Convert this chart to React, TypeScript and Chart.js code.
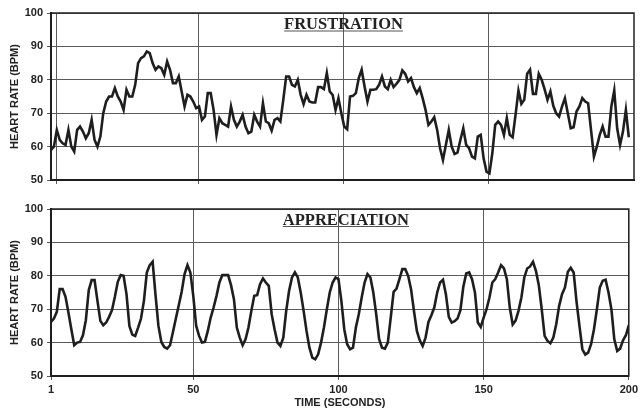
import React, { useEffect, useRef } from "react";
import { Chart, registerables } from "chart.js";

Chart.register(...registerables);

// ---------- data ----------
const TIME_TICKS = [1, 50, 100, 150, 200];
const TOP_TIME_TICKS = [1, 50, 100, 150];
const Y_MIN = 50;
const Y_MAX = 100;
const Y_STEP = 10;

const Y_TITLE = "HEART RATE (BPM)";
const X_TITLE = "TIME (SECONDS)";
const FRUSTRATION_LABEL = "FRUSTRATION";
const APPRECIATION_LABEL = "APPRECIATION";

const FRUSTRATION = [
  59, 60, 65, 62, 61, 60.5, 65, 60, 58.5, 65,
  66, 64.5, 62.5, 64, 68, 62, 60, 63, 70, 73.5,
  75, 75, 77.5, 75, 73.5, 71, 77, 75, 75, 78.5,
  85, 86.5, 87, 88.5, 88, 85, 83, 84, 83.5, 81.5,
  85.5, 83, 79, 79, 81, 76.5, 72, 75.5, 75, 73.5,
  71.5, 72, 68, 69, 76, 76, 71, 63.5, 68.5, 67,
  66.5, 66, 72, 68, 66, 67.5, 69.5, 66, 64, 64.5,
  69.5, 67.5, 66, 73, 67.5, 67, 64.8, 68, 68.5, 67.5,
  74, 81, 81, 78.5, 78, 80, 75.5, 72.7, 75.5, 73.5,
  73.2, 73.2, 77.8, 77.8, 77.2, 82, 76.5, 75.5, 71, 74.5,
  70, 66, 65.2, 75, 75.2, 76, 80.5, 83, 78, 73.5,
  77, 77, 77.2, 78.5, 81, 78, 77.2, 80, 77.8, 78.8,
  80, 82.8, 81.8, 79.5, 80.5, 77.8, 76, 77.5, 74.5, 71,
  66.5, 67.5, 68.8, 65, 59.5, 56, 60.5, 65, 60, 57.8,
  58.2, 62, 65.5, 60.5, 59.5, 57, 56.5, 63, 63.5, 56.5,
  52.5, 52, 58, 66.5, 67.5, 66.5, 63.5, 68.5, 63.5, 62.8,
  69.5, 76.8, 72.8, 74, 81.8, 83, 75.8, 75.8, 81.8, 80,
  77.2, 74, 76.5, 72.2, 70, 69, 72, 74.5, 70, 65.5,
  65.8, 70.5, 72, 74.5, 73.5, 73, 65, 57, 60, 63.5,
  66, 63, 63, 72, 76.8, 65.5, 60.5, 64.5, 71, 62.8,
];

const APPRECIATION = [
  66.2, 67.2, 69.2, 76, 76, 73.7, 69, 64, 59.2, 60,
  60.2, 62.2, 66.7, 75.7, 78.7, 78.7, 72.5, 66.5, 65.2, 66,
  67.7, 69.7, 73.7, 78.2, 80.2, 80, 74.5, 65, 62.4, 62,
  64.5, 67.2, 72.5, 81, 83.2, 84.2, 74.2, 65, 60.2, 58.7,
  58.2, 59.2, 63.2, 67.2, 71.2, 75.2, 80.5, 83.2, 81, 74,
  65, 62, 60, 60.2, 63.5, 67.5, 70.5, 74, 78, 80.2,
  80.2, 80.2, 77.2, 73, 64.5, 61.5, 59.2, 61, 64.5, 69.5,
  74, 74.2, 77.5, 79.2, 78, 77, 68.5, 64, 60, 59,
  61.5, 69.5, 75.5, 79.5, 81, 79.5, 75, 69.5, 63.5, 58.5,
  55.5, 55, 56.5, 60, 64.5, 70, 75, 78, 79.5, 79,
  72.5, 64, 59.5, 58, 58.5, 64.5, 68.5, 73.5, 78, 80.5,
  79.5, 75, 68.5, 61, 58.5, 58.2, 60, 67.5, 75.2, 76.2,
  79, 82, 82, 80, 76, 69.5, 63.5, 60.7, 59, 61.5,
  66.2, 68.2, 70.5, 75, 78, 78.8, 74.5, 67.7, 66, 66.4,
  67.2, 69.7, 76.7, 80.7, 81, 79, 75, 66, 64.7, 67.5,
  70, 73.5, 78, 79, 81, 83.2, 82.2, 79, 70.5, 65.4,
  66.6, 69.5, 73.5, 79.5, 82.2, 82.8, 84.2, 81.5, 77.2, 70,
  62, 60.5, 59.8, 61.5, 65.5, 71, 74.5, 76.5, 81.2, 82.4,
  81, 72.2, 65, 58, 56.4, 57, 59.5, 64, 70, 76.5,
  78.5, 78.8, 75, 70, 61, 57.5, 58.2, 60.7, 62.2, 65.2,
];

// ---------- styling ----------
const SANS = '"Liberation Sans", Arial, Helvetica, sans-serif';
const SERIF = '"Liberation Serif", "Times New Roman", serif';
const GRID = "#5a5a5a";
const INK = "#1e1e1e";
const TOP_GRID_SHIFT = 1.8; // upper panel's gridlines sit slightly right of its data start

const panelPlugin = {
  id: "panelFrame",
  afterDraw(chart: any, _args: any, opts: any) {
    const { ctx, chartArea: a } = chart;
    ctx.save();
    ctx.strokeStyle = "#222";
    ctx.lineWidth = 1.5;
    ctx.strokeRect(a.left, a.top, a.right - a.left, a.bottom - a.top);
    ctx.font = `bold 16.5px ${SERIF}`;
    ctx.fillStyle = "#222";
    ctx.textAlign = "center";
    ctx.textBaseline = "alphabetic";
    const cx = (a.left + a.right) / 2 + (opts.dx || 0);
    const by = a.top + (opts.dy || 16);
    ctx.fillText(opts.text, cx, by);
    const w = ctx.measureText(opts.text).width;
    ctx.fillStyle = "#555";
    ctx.fillRect(cx - w / 2, by + 1.5, w, 1);
    ctx.restore();
  },
};

type PanelProps = {
  values: number[];
  label: string;
  width: number;
  height: number;
  bottom: boolean;
};

function Panel({ values, label, width, height, bottom }: PanelProps) {
  const ref = useRef<HTMLCanvasElement | null>(null);
  useEffect(() => {
    if (!ref.current) return;
    const tickFont = { family: SANS, size: 11, weight: "bold" as const };
    const chart = new Chart(ref.current, {
      type: "line",
      data: {
        datasets: [
          {
            label,
            data: values.map((v, i) => ({ x: i + 1, y: v })),
            borderColor: INK,
            borderWidth: 2.6,
            pointRadius: 0,
            tension: 0,
            fill: false,
          },
        ],
      },
      plugins: [panelPlugin],
      options: {
        animation: false,
        responsive: false,
        devicePixelRatio: 1,
        layout: bottom
          ? { padding: { left: 0, right: 9, top: 14, bottom: 0 } }
          : { padding: { left: 0, right: 7, top: 13, bottom: 0 } },
        plugins: {
          legend: { display: false },
          tooltip: { enabled: false },
          panelFrame: bottom
            ? { text: APPRECIATION_LABEL, dx: 6, dy: 15.5 }
            : { text: FRUSTRATION_LABEL, dx: 1, dy: 16 },
        } as any,
        scales: {
          x: {
            type: "linear",
            min: 1,
            max: bottom ? TIME_TICKS[TIME_TICKS.length - 1] : 200 + TOP_GRID_SHIFT,
            afterBuildTicks: (s: any) => {
              s.ticks = bottom
                ? TIME_TICKS.map((v) => ({ value: v }))
                : TOP_TIME_TICKS.map((v) => ({ value: v + TOP_GRID_SHIFT }));
            },
            afterFit: (s: any) => {
              s.height = bottom ? 35 : 15;
            },
            ticks: {
              display: bottom,
              autoSkip: false,
              maxRotation: 0,
              padding: 3,
              color: "#222",
              font: tickFont,
              callback: (v: any) => String(v),
            },
            grid: { color: GRID, lineWidth: 1, drawTicks: true, tickLength: 4, tickColor: GRID },
            border: { display: true, color: "#111", width: 2 },
            title: {
              display: bottom,
              text: X_TITLE,
              color: "#222",
              font: tickFont,
              padding: { top: 0, bottom: 1 },
            },
          },
          y: {
            type: "linear",
            min: Y_MIN,
            max: Y_MAX,
            afterFit: (s: any) => {
              s.width = 51;
            },
            ticks: {
              stepSize: Y_STEP,
              padding: 4,
              color: "#222",
              font: tickFont,
            },
            grid: { color: GRID, lineWidth: 1, drawTicks: true, tickLength: 4, tickColor: GRID },
            border: { display: true, color: "#111", width: 2 },
            title: {
              display: true,
              text: Y_TITLE,
              color: "#222",
              font: tickFont,
              padding: { top: 8, bottom: 0 },
            },
          },
        },
      },
    } as any);
    return () => chart.destroy();
  }, [values, label, bottom]);
  return <canvas ref={ref} width={width} height={height} style={{ display: "block", width, height }} />;
}

export default function App() {
  return (
    <div
      style={{
        position: "absolute",
        left: 0,
        top: 0,
        width: 641,
        height: 411,
        background: "#fff",
      }}
    >
      <Panel values={FRUSTRATION} label={FRUSTRATION_LABEL} width={641} height={195} bottom={false} />
      <Panel values={APPRECIATION} label={APPRECIATION_LABEL} width={641} height={216} bottom={true} />
    </div>
  );
}
